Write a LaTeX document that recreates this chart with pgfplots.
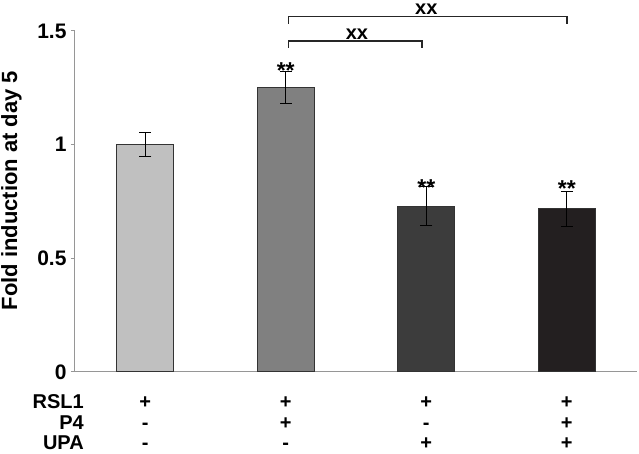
\documentclass[border=0pt]{standalone}
\usepackage{fontspec}
\setmainfont{Liberation Sans}
\usepackage{pgfplots}
\pgfplotsset{compat=1.18}
\definecolor{barA}{RGB}{192,192,192}
\definecolor{barB}{RGB}{128,128,128}
\definecolor{barC}{RGB}{60,60,60}
\definecolor{barD}{RGB}{35,31,32}
\definecolor{axgray}{RGB}{150,150,150}
\begin{document}
\begin{tikzpicture}
\path[use as bounding box] (-75pt,-82pt) rectangle (564pt,372pt);
\begin{axis}[
  at={(0pt,0pt)}, anchor=south west,
  scale only axis, width=562pt, height=341pt,
  xmin=-0.5, xmax=3.5, ymin=0, ymax=1.5,
  axis lines*=left,
  axis line style={axgray, line width=1pt},
  xtick=\empty,
  ytick={0,0.5,1,1.5},
  yticklabels={0,0.5,1,1.5},
  tick align=outside,
  major tick length=4pt,
  ytick style={axgray, line width=1pt},
  /pgf/number format/assume math mode=true,
  yticklabel style={font=\bfseries\fontsize{21}{21}\selectfont, xshift=-1pt},
  ylabel={Fold induction at day 5},
  ylabel style={font=\bfseries\fontsize{22}{22}\selectfont, at={(axis description cs:-0.113,0.532)}, anchor=center},
  clip=false,
  ybar, bar width=57pt, bar shift=0pt,
  error bars/error bar style={black, line width=1pt},
  error bars/error mark options={rotate=90, mark size=6pt, black, line width=1pt},
]
\addplot[fill=barA, draw=black!80, line width=1pt, error bars/.cd, y dir=both, y explicit]
  coordinates {(0,1.00) +- (0,0.053)};
\addplot[fill=barB, draw=black!80, line width=1pt, error bars/.cd, y dir=both, y explicit]
  coordinates {(1,1.25) +- (0,0.071)};
\addplot[fill=barC, draw=black!80, line width=1pt, error bars/.cd, y dir=both, y explicit]
  coordinates {(2,0.73) +- (0,0.085)};
\addplot[fill=barD, draw=black!80, line width=1pt, error bars/.cd, y dir=both, y explicit]
  coordinates {(3,0.718) +- (0,0.078)};

% significance stars
\begin{scope}[every node/.style={font=\bfseries\fontsize{23}{23}\selectfont, inner sep=0pt, anchor=base}]
\node at (axis cs:1,1.292) {**};
\node at (axis cs:2,0.777) {**};
\node at (axis cs:3,0.772) {**};
\end{scope}

% brackets
\draw[line width=1.5pt, black!85] (axis cs:1.02,1.531) -- (axis cs:1.02,1.563) -- (axis cs:3,1.563) -- (axis cs:3,1.531);
\draw[line width=1.5pt, black!85] (axis cs:1.02,1.427) -- (axis cs:1.02,1.455) -- (axis cs:1.97,1.455) -- (axis cs:1.97,1.427);
\begin{scope}[every node/.style={font=\bfseries\fontsize{20}{20}\selectfont, inner sep=0pt, anchor=base}]
\node at (axis cs:2.0,1.572) {xx};
\node at (axis cs:1.507,1.462) {xx};
\end{scope}

% treatment table
\begin{scope}[every node/.style={font=\bfseries\fontsize{20}{20}\selectfont, inner sep=0pt, anchor=base}]
\node[anchor=base east] at (axis cs:-0.436,-0.162) {RSL1};
\node[anchor=base east] at (axis cs:-0.436,-0.254) {P4};
\node[anchor=base east] at (axis cs:-0.436,-0.342) {UPA};
\node at (axis cs:0,-0.162) {+};
\node at (axis cs:0,-0.254) {-};
\node at (axis cs:0,-0.342) {-};
\node at (axis cs:1,-0.162) {+};
\node at (axis cs:1,-0.254) {+};
\node at (axis cs:1,-0.342) {-};
\node at (axis cs:2,-0.162) {+};
\node at (axis cs:2,-0.254) {-};
\node at (axis cs:2,-0.342) {+};
\node at (axis cs:3,-0.162) {+};
\node at (axis cs:3,-0.254) {+};
\node at (axis cs:3,-0.342) {+};
\end{scope}
\end{axis}
\end{tikzpicture}
\end{document}
